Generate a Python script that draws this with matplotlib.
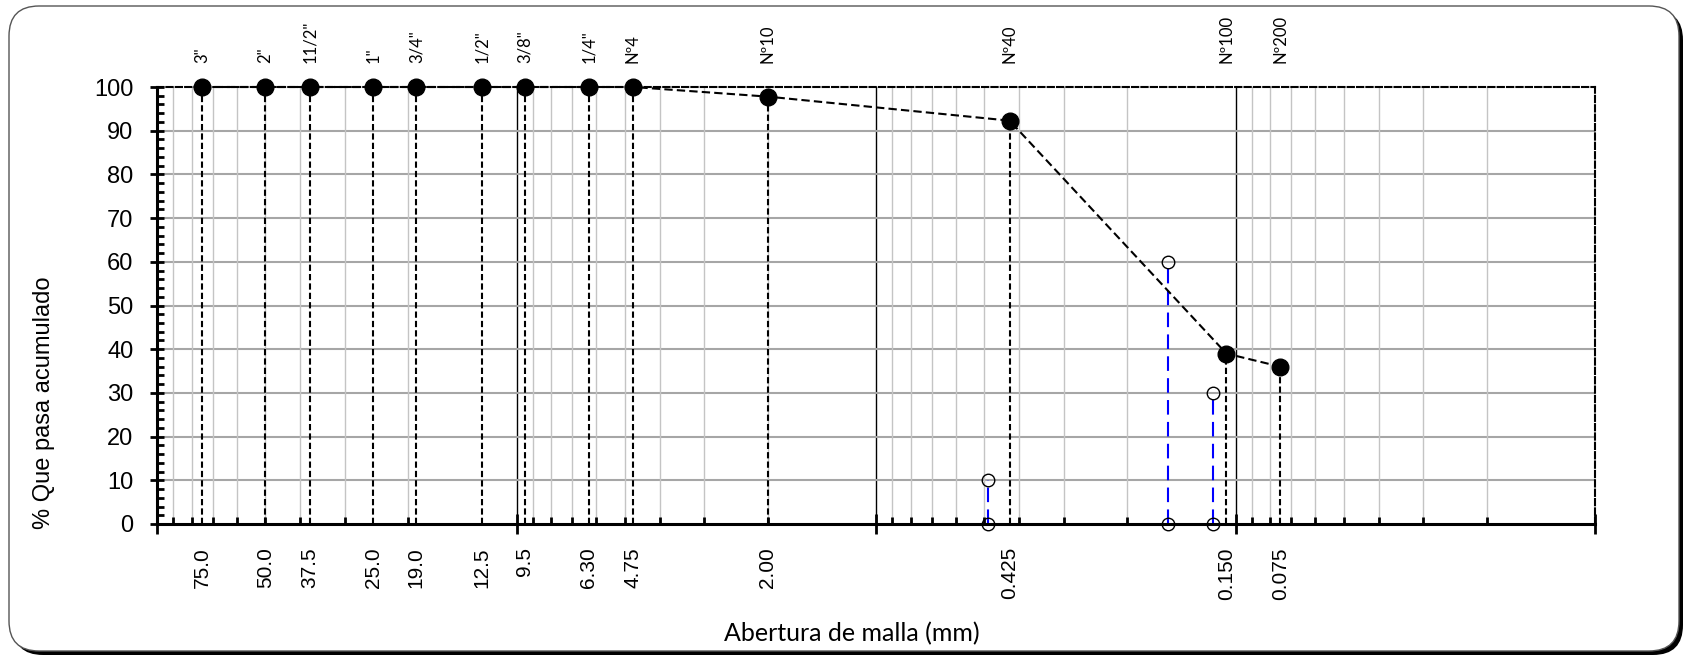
import numpy as np
import matplotlib.pyplot as plt
from matplotlib.patches import FancyBboxPatch
from matplotlib.ticker import LogLocator, MultipleLocator, NullFormatter, FixedLocator

# Granulometria - datos
tamiz = ['3"', '2"', '11/2"', '1"', '3/4"', '1/2"', '3/8"', '1/4"', 'Nº4',
         'Nº10', 'Nº40', 'Nº100', 'Nº200']
abertura = [75.0, 50.0, 37.5, 25.0, 19.0, 12.5, 9.5, 6.30, 4.75,
            2.00, 0.425, 0.106, 0.075]
abertura_txt = ['75.0', '50.0', '37.5', '25.0', '19.0', '12.5', '9.5', '6.30', '4.75',
                '2.00', '0.425', '0.150', '0.075']
pasa = [100, 100, 100, 100, 100, 100, 100, 100, 100,
        97.8, 92.3, 39.0, 36.0]

# D10, D30, D60
d_size = [0.487, 0.1155, 0.1544]
d_pct = [10, 30, 60]

W, H = 1686, 660
fig = plt.figure(figsize=(W / 100, H / 100), dpi=100)

# marco redondeado con sombra
inch = fig.dpi_scale_trans
fx0, fy0, fx1, fy1 = 9, 9, 1679, 654   # px desde abajo-izq
sh = FancyBboxPatch(((fx0 + 4) / 100, (fy0 - 4) / 100), (fx1 - fx0) / 100, (fy1 - fy0) / 100,
                    boxstyle="round,pad=0,rounding_size=0.3", transform=inch,
                    facecolor='black', edgecolor='black', lw=0, zorder=-10)
fr = FancyBboxPatch((fx0 / 100, fy0 / 100), (fx1 - fx0) / 100, (fy1 - fy0) / 100,
                    boxstyle="round,pad=0,rounding_size=0.3", transform=inch,
                    facecolor='white', edgecolor='#555555', lw=1, zorder=-9)
fig.patches.extend([sh, fr])

ax = fig.add_axes([157 / W, (660 - 524) / H, (1595 - 157) / W, (524 - 87) / H])
ax.set_facecolor('none')
ax.set_xscale('log')
ax.set_xlim(100, 0.01)
ax.set_ylim(0, 100)

# rejilla
ax.xaxis.set_major_locator(FixedLocator([100, 10, 1, 0.1, 0.01]))
ax.xaxis.set_minor_locator(LogLocator(base=10, subs=np.arange(2, 10)))
ax.xaxis.set_major_formatter(NullFormatter())
ax.xaxis.set_minor_formatter(NullFormatter())
ax.grid(which='minor', axis='x', color='#c4c4c4', lw=1, zorder=0)
for xv in [10, 1, 0.1]:
    ax.axvline(xv, color='black', lw=1, zorder=1)
ax.hlines(np.arange(10, 100, 10), 100, 0.01, colors='#a6a6a6', lw=1.5, zorder=1)

ax.yaxis.set_major_locator(MultipleLocator(10))
ax.yaxis.set_minor_locator(MultipleLocator(2))
ax.tick_params(axis='x', which='major', direction='inout', length=14, width=2, bottom=True, top=False)
ax.tick_params(axis='x', which='minor', direction='in', length=5, width=2, bottom=True, top=False)
ax.tick_params(axis='y', which='major', direction='inout', length=10, width=2, pad=12,
               labelsize=17, labelfontfamily='Liberation Sans')
ax.tick_params(axis='y', which='minor', direction='in', length=5, width=2)

for s in ['left', 'bottom']:
    ax.spines[s].set_linewidth(2.2)
    ax.spines[s].set_zorder(6)
for s in ['top', 'right']:
    ax.spines[s].set_linewidth(1.5)
    ax.spines[s].set_linestyle((0, (3, 1.5)))

# lineas verticales de cada tamiz
ax.vlines(abertura, 0, pasa, colors='black', linestyles=(0, (3, 1.5)), lw=1.5, zorder=3)

# curva granulometrica
ax.plot(abertura, pasa, ls=(0, (4, 2)), color='black', lw=1.5, marker='o', ms=12,
        mfc='black', mec='black', zorder=5, clip_on=False)

# D10 D30 D60
for d, p in zip(d_size, d_pct):
    ax.plot([d, d], [0, p], color='blue', ls=(0, (7, 3.5)), lw=1.5, marker='o', ms=9,
            mfc='none', mec='black', mew=1, zorder=4, clip_on=False)

# etiquetas de tamices
for x, t in zip(abertura, tamiz):
    ax.annotate(t, (x, 100), xytext=(0, 24), textcoords='offset pixels', rotation=90,
                ha='center', va='bottom', fontsize=12, family='Lato')
for x, t in zip(abertura, abertura_txt):
    ax.annotate(t, (x, 0), xytext=(0, -23), textcoords='offset pixels', rotation=90,
                ha='center', va='top', fontsize=15, family='Liberation Sans')

fig.text(44 / W, 1 - 403 / H, '% Que pasa acumulado', rotation=90, ha='center', va='center',
         fontsize=17, family='Liberation Sans')
fig.text(852 / W, 1 - 634 / H, 'Abertura de malla (mm)', ha='center', va='center',
         fontsize=18, family='Lato')

fig.savefig('out.png', dpi=100)
